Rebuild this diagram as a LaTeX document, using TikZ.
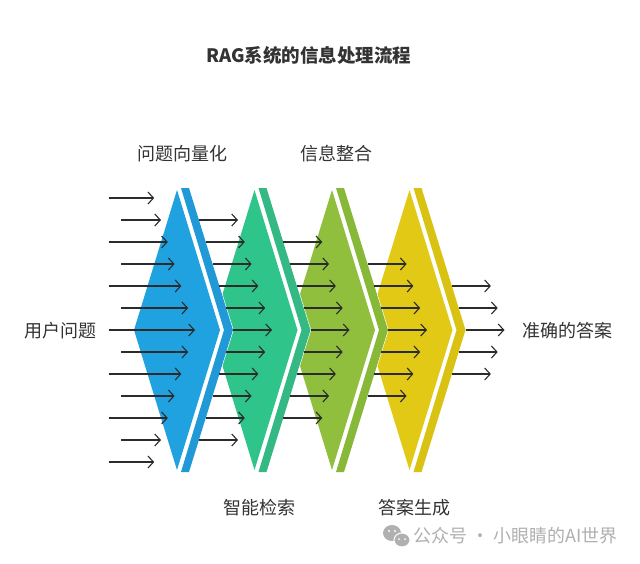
\documentclass[tikz,border=0pt]{standalone}
\usepackage{fontspec}
\setmainfont{Noto Sans CJK SC}
\usetikzlibrary{arrows.meta}

\definecolor{bluemain}{HTML}{1FA2DF}
\definecolor{blueband}{HTML}{2299D7}
\definecolor{greenmain}{HTML}{2FC48A}
\definecolor{greenband}{HTML}{35B984}
\definecolor{olivemain}{HTML}{8FBF3C}
\definecolor{oliveband}{HTML}{88B838}
\definecolor{yellowmain}{HTML}{E1C915}
\definecolor{yellowband}{HTML}{D9C212}
\definecolor{raygray}{HTML}{2B2B2B}
\definecolor{textgray}{HTML}{333333}
\definecolor{markgray}{HTML}{B0B0B0}

\tikzset{
  ray/.style={draw=raygray, line width=1.1pt, -{Straight Barb[length=5.5pt,width=12pt]}},
  steplabel/.style={text=textgray, font=\fontsize{18}{22}\selectfont, inner sep=0pt},
}

\begin{document}
\begin{tikzpicture}[x=1pt,y=-1pt]
  \useasboundingbox[fill=white] (0,0) rectangle (640,563);

  % the four layers, drawn back to front
  \foreach \j/\main/\band in {3/yellowmain/yellowband, 2/olivemain/oliveband,
                              1/greenmain/greenband, 0/bluemain/blueband}{
    \begin{scope}[xshift={\j*77.5pt}]
      \filldraw[white, line width=1.2pt] (134,330) -- (177,190) -- (189,188)
        -- (233,330) -- (189,472) -- (177,470) -- cycle;
      \fill[\main] (134,330) -- (177,190) -- (220,330) -- (177,470) -- cycle;
      \fill[\band] (181,188) -- (189,188) -- (233,330) -- (189,472)
        -- (181,472) -- (224,330) -- cycle;
    \end{scope}
  }

  % incoming questions
  \foreach \i in {-6,...,6}{
    \pgfmathsetmacro\tail{ifthenelse(mod(abs(\i),2)==1,121,109)}
    \pgfmathsetmacro\tip{195-6.8*abs(\i)}
    \draw[ray] (\tail,{330+22*\i}) -- (\tip,{330+22*\i});
  }

  % rays leaving each layer
  \foreach \j in {1,...,4}{
    \pgfmathtruncatemacro\n{6-\j}
    \foreach \i in {-\n,...,\n}{
      \pgfmathsetmacro\tail{233+77.5*(\j-1)-6.8*abs(\i)}
      \draw[ray] (\tail,{330+22*\i}) -- ++(39,0);
    }
  }

  % labels
  \node[text=textgray, font=\bfseries\fontsize{18.5}{22}\selectfont] (title) at (309,55) {RAG系统的信息处理流程};
  \node[steplabel] (embed) at (182,154) {问题向量化};
  \node[steplabel] (merge) at (336,154) {信息整合};
  \node[steplabel] (search) at (259,508) {智能检索};
  \node[steplabel] (answer) at (414,508) {答案生成};
  \node[steplabel] (query) at (60,331) {用户问题};
  \node[steplabel] (result) at (567,331) {准确的答案};

  % watermark
  \fill[markgray] (392,533) ellipse [x radius=9, y radius=8];
  \filldraw[markgray, draw=white, line width=1pt] (402,540) ellipse [x radius=8, y radius=7];
  \fill[white] (389,531) circle [radius=1.2] (395,531) circle [radius=1.2]
    (399,539) circle [radius=1] (405,539) circle [radius=1];
  \node[text=markgray, font=\fontsize{18}{21}\selectfont, anchor=west, inner sep=0pt] (mark) at (413,536) {公众号 · 小眼睛的AI世界};
\end{tikzpicture}
\end{document}
